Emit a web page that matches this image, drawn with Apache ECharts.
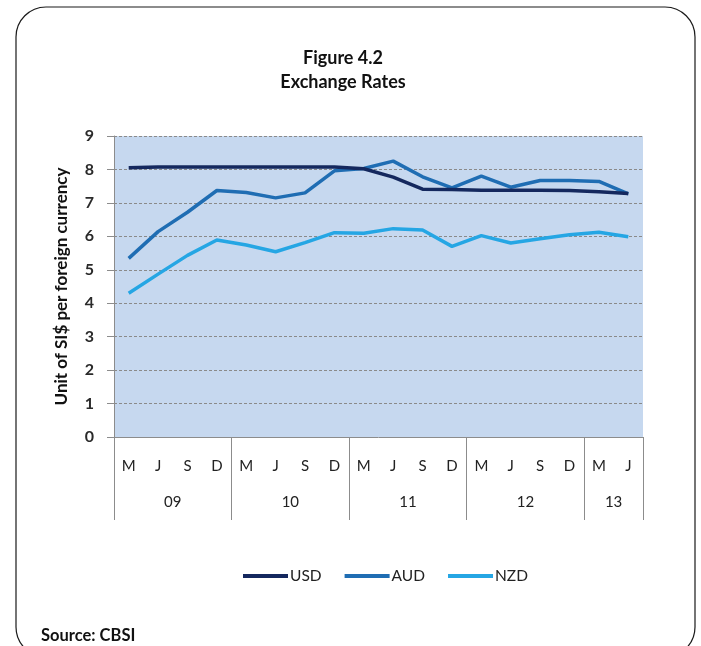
<!DOCTYPE html>
<html>
<head>
<meta charset="utf-8">
<script src="https://cdn.jsdelivr.net/npm/echarts@6/dist/echarts.min.js"></script>
<style>
  html, body { margin: 0; padding: 0; background: #ffffff; }
  #chart { width: 701px; height: 646px; }
</style>
</head>
<body>
<div id="chart"></div>
<script>
// Quarter-month labels along the bottom axis
const months = ['M','J','S','D','M','J','S','D','M','J','S','D','M','J','S','D','M','J'];
// Year groups and how many quarters each spans
const years = ['09','10','11','12','13'];
const yearSpans = [4, 4, 4, 4, 2];
// Value-axis ticks on the left
const yTicks = [0, 1, 2, 3, 4, 5, 6, 7, 8, 9];

// Exchange rates, SI$ per unit of foreign currency
const usd = [8.05, 8.07, 8.07, 8.07, 8.07, 8.07, 8.07, 8.07, 8.02, 7.77, 7.41, 7.40, 7.38, 7.38, 7.38, 7.37, 7.33, 7.28];
const aud = [5.34, 6.14, 6.72, 7.37, 7.31, 7.15, 7.30, 7.96, 8.03, 8.25, 7.78, 7.45, 7.80, 7.47, 7.67, 7.67, 7.64, 7.27];
const nzd = [4.30, 4.87, 5.43, 5.89, 5.74, 5.54, 5.81, 6.11, 6.09, 6.23, 6.19, 5.70, 6.02, 5.80, 5.93, 6.05, 6.12, 5.99];

// Group boundaries and centres for the year row
const yearEdges = [0];
const yearCentres = [];
yearSpans.forEach(function (n, i) {
  const start = yearEdges[i];
  yearEdges.push(start + n);
  yearCentres.push(start + n / 2);
});

const FONT = 'Lato, "Open Sans", sans-serif';
const chart = echarts.init(document.getElementById('chart'));

chart.setOption({
  animation: false,
  backgroundColor: '#ffffff',
  textStyle: { fontFamily: FONT },
  graphic: [{
    type: 'rect',
    shape: { x: 16, y: 7, width: 679, height: 650, r: 30 },
    style: { fill: 'none', stroke: '#1a1a1a', lineWidth: 1.2 },
    silent: true,
    z: -1
  }],
  title: [{
    text: 'Figure 4.2\nExchange Rates',
    left: 338,
    top: 41,
    textAlign: 'center',
    textStyle: { fontFamily: FONT, fontSize: 18, fontWeight: 'bold', color: '#111', lineHeight: 24 }
  }, {
    text: 'Source: CBSI',
    left: 36,
    top: 622,
    textStyle: { fontFamily: FONT, fontSize: 16.5, fontWeight: 'bold', color: '#111' }
  }],
  legend: {
    left: 243,
    top: 568,
    padding: 0,
    itemWidth: 45,
    itemHeight: 4,
    itemGap: 23,
    icon: 'rect',
    textStyle: { fontFamily: FONT, fontSize: 15.5, color: '#222', padding: [0, 0, 0, -3] },
    data: ['USD', 'AUD', 'NZD']
  },
  grid: {
    left: 114,
    right: 58,
    top: 136,
    bottom: 209,
    show: true,
    backgroundColor: '#c6d8ef',
    borderWidth: 0
  },
  xAxis: [{
    type: 'category',
    data: months,
    boundaryGap: true,
    axisLine: { show: true, lineStyle: { color: '#8c8c8c', width: 1 } },
    axisTick: { show: false },
    axisLabel: { margin: 22, fontFamily: FONT, fontSize: 15, color: '#222', interval: 0 },
    splitLine: { show: false }
  }, {
    type: 'value',
    position: 'bottom',
    min: 0,
    max: months.length,
    axisLine: { show: false },
    axisTick: {
      show: true,
      customValues: yearEdges,
      length: 83,
      lineStyle: { color: '#8c8c8c', width: 1 }
    },
    axisLabel: {
      customValues: yearCentres,
      margin: 58,
      fontFamily: FONT,
      fontSize: 15,
      color: '#222',
      formatter: function (v) {
        const i = yearCentres.indexOf(v);
        return i >= 0 ? years[i] : '';
      }
    },
    splitLine: { show: false }
  }],
  yAxis: {
    type: 'value',
    min: yTicks[0],
    max: yTicks[yTicks.length - 1],
    interval: 1,
    name: 'Unit of SI$ per foreign currency',
    nameLocation: 'middle',
    nameRotate: 90,
    nameGap: 44,
    nameTextStyle: { fontFamily: FONT, fontSize: 17, fontWeight: 'bold', color: '#111' },
    axisLine: { show: true, lineStyle: { color: '#8c8c8c', width: 1 } },
    axisTick: { show: true, inside: false, length: 7, lineStyle: { color: '#8c8c8c' } },
    axisLabel: { margin: 20, fontFamily: FONT, fontSize: 16, fontWeight: 'bold', color: '#2a2a2a' },
    splitLine: { show: true, lineStyle: { color: '#8a8a8a', type: [3, 2], width: 1.2 } }
  },
  series: [{
    name: 'USD',
    type: 'line',
    data: usd,
    symbol: 'none',
    lineStyle: { width: 3.5, color: '#14285e' },
    itemStyle: { color: '#14285e' },
    z: 4
  }, {
    name: 'AUD',
    type: 'line',
    data: aud,
    symbol: 'none',
    lineStyle: { width: 3.5, color: '#1f6db3' },
    itemStyle: { color: '#1f6db3' },
    z: 3
  }, {
    name: 'NZD',
    type: 'line',
    data: nzd,
    symbol: 'none',
    lineStyle: { width: 3.5, color: '#25a6e4' },
    itemStyle: { color: '#25a6e4' },
    z: 2
  }]
});
</script>
</body>
</html>
